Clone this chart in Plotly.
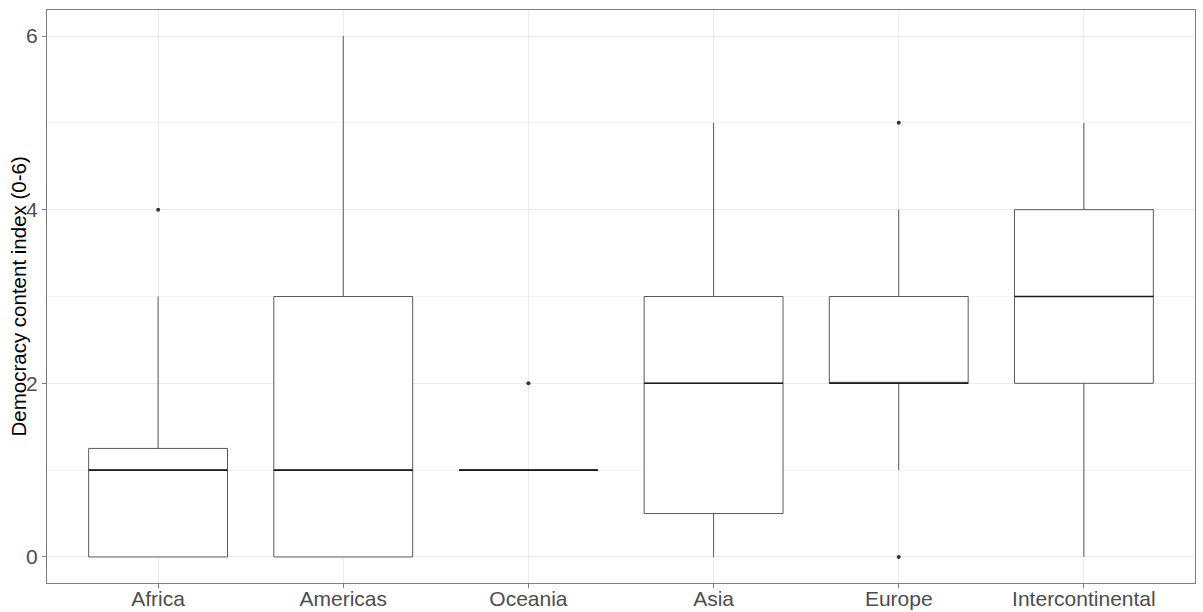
import plotly.graph_objects as go

categories = ["Africa", "Americas", "Oceania", "Asia", "Europe", "Intercontinental"]
q1 = [0, 0, 1, 0.5, 2, 2]
median = [1, 1, 1, 2, 2, 3]
q3 = [1.25, 3, 1, 3, 3, 4]
lower_whisker = [0, 0, 1, 0, 1, 0]
upper_whisker = [3, 6, 1, 5, 4, 5]
outlier_cat = ["Africa", "Oceania", "Europe", "Europe"]
outlier_val = [4, 2, 5, 0]
y_title = "Democracy content index (0-6)"

pos = list(range(1, len(categories) + 1))
cat_pos = {c: p for c, p in zip(categories, pos)}
box_w = 0.75

fig = go.Figure()
fig.add_trace(go.Box(
    x=pos, q1=q1, median=median, q3=q3,
    lowerfence=lower_whisker, upperfence=upper_whisker,
    width=box_w, whiskerwidth=0,
    fillcolor="white", line=dict(color="#595959", width=1),
    boxpoints=False, showlegend=False, hoverinfo="skip",
))

mx, my = [], []
for p, m in zip(pos, median):
    mx += [p - box_w / 2, p + box_w / 2, None]
    my += [m, m, None]
fig.add_trace(go.Scatter(x=mx, y=my, mode="lines",
                         line=dict(color="#1a1a1a", width=1.6),
                         showlegend=False, hoverinfo="skip"))

fig.add_trace(go.Scatter(x=[cat_pos[c] for c in outlier_cat], y=outlier_val,
                         mode="markers", marker=dict(color="#333333", size=4),
                         showlegend=False, hoverinfo="skip"))

fig.update_layout(
    width=1203, height=612,
    margin=dict(l=47, r=8, t=10, b=29, autoexpand=False),
    paper_bgcolor="white", plot_bgcolor="white",
    font=dict(family="Liberation Sans, Arial, sans-serif", size=21, color="#4d4d4d"),
)
fig.update_xaxes(
    range=[0.4, 6.6], tickvals=pos, ticktext=categories, automargin=False,
    showgrid=True, gridcolor="#ebebeb", gridwidth=1,
    zeroline=False, showline=True, linecolor="#7f7f7f", linewidth=1, mirror=True,
    ticks="outside", ticklen=4, tickcolor="#7f7f7f", ticklabelstandoff=-7,
    tickfont=dict(size=21, color="#4d4d4d"),
)
fig.update_yaxes(
    range=[-0.3, 6.3], tickvals=[0, 2, 4, 6], ticktext=["0", "2", "4", "6"], automargin=False,
    showgrid=True, gridcolor="#ebebeb", gridwidth=1,
    minor=dict(tickvals=[1, 3, 5], showgrid=True, gridcolor="#f3f3f3", gridwidth=1),
    zeroline=False, showline=True, linecolor="#7f7f7f", linewidth=1, mirror=True,
    ticks="outside", ticklen=4, tickcolor="#7f7f7f",
    tickfont=dict(size=21, color="#4d4d4d"),
)
fig.add_annotation(
    text=y_title, textangle=-90, xref="paper", yref="paper",
    x=0, y=0.5, xanchor="center", yanchor="middle", xshift=-29,
    showarrow=False, font=dict(size=20.5, color="black"),
)

fig.write_html("out.html", config={"displayModeBar": False},
               post_script="document.body.style.margin='0';document.body.style.overflow='hidden';")
